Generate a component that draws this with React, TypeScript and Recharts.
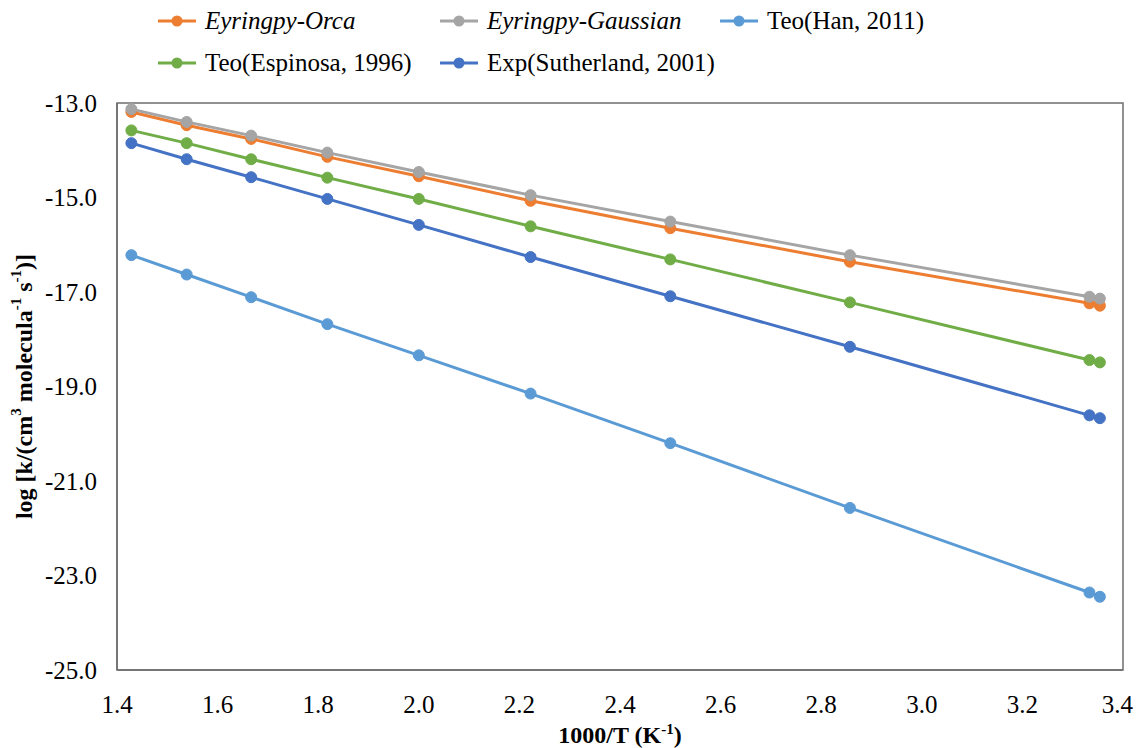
import { LineChart, Line, XAxis, YAxis, ReferenceArea, Label } from "recharts";

const xValues = [1.4286, 1.5385, 1.6667, 1.8182, 2.0, 2.2222, 2.5, 2.8571, 3.3333, 3.354];
const orca = [-13.19, -13.47, -13.76, -14.14, -14.55, -15.07, -15.65, -16.36, -17.24, -17.29];
const gaussian = [-13.13, -13.4, -13.69, -14.05, -14.46, -14.95, -15.51, -16.22, -17.1, -17.14];
const han = [-16.22, -16.63, -17.11, -17.68, -18.34, -19.15, -20.2, -21.57, -23.36, -23.45];
const espinosa = [-13.58, -13.85, -14.19, -14.58, -15.03, -15.61, -16.31, -17.22, -18.44, -18.49];
const sutherland = [-13.85, -14.19, -14.57, -15.03, -15.58, -16.26, -17.09, -18.16, -19.61, -19.67];

const xTicks = [1.4, 1.6, 1.8, 2.0, 2.2, 2.4, 2.6, 2.8, 3.0, 3.2, 3.4];
const yTicks = [-25, -23, -21, -19, -17, -15, -13];

const series = [
  { key: "orca", name: "Eyringpy-Orca", color: "#ED7D31", italic: true },
  { key: "gaussian", name: "Eyringpy-Gaussian", color: "#A5A5A5", italic: true },
  { key: "han", name: "Teo(Han, 2011)", color: "#5B9BD5", italic: false },
  { key: "espinosa", name: "Teo(Espinosa, 1996)", color: "#70AD47", italic: false },
  { key: "sutherland", name: "Exp(Sutherland, 2001)", color: "#4472C4", italic: false },
];

const data = xValues.map((x, i) => ({
  x,
  orca: orca[i],
  gaussian: gaussian[i],
  han: han[i],
  espinosa: espinosa[i],
  sutherland: sutherland[i],
}));

const font = "Liberation Serif";
const axisGray = "#6e6e6e";

// legend positions (two rows)
const legendPos = [
  { left: 150, top: 0 },
  { left: 432, top: 0 },
  { left: 712, top: 0 },
  { left: 150, top: 42 },
  { left: 432, top: 42 },
];

function LegendBox() {
  return (
    <>
      {series.map((s, i) => (
        <div
          key={s.key}
          style={{
            position: "absolute",
            left: legendPos[i].left,
            top: legendPos[i].top,
            height: 26,
            display: "flex",
            alignItems: "center",
            fontFamily: font,
            fontSize: 25,
            fontStyle: s.italic ? "italic" : "normal",
            color: "#000",
            whiteSpace: "nowrap",
          }}
        >
          <svg width={38} height={14} style={{ marginRight: 9 }}>
            <line x1={0} y1={7} x2={38} y2={7} stroke={s.color} strokeWidth={3} />
            <circle cx={19} cy={7} r={5.5} fill={s.color} />
          </svg>
          {s.name}
        </div>
      ))}
    </>
  );
}

const YTitle = (props: any) => {
  const vb = props.viewBox;
  const cy = vb.y + vb.height / 2;
  return (
    <text
      x={16}
      y={cy}
      transform={`rotate(-90, 16, ${cy})`}
      textAnchor="middle"
      dominantBaseline="central"
      fontFamily={font}
      fontSize={24}
      fontWeight="bold"
      fill="#000"
    >
      log [k/(cm<tspan dy={-8} fontSize={15}>3</tspan>
      <tspan dy={8}> molecula</tspan>
      <tspan dy={-8} fontSize={15}>-1</tspan>
      <tspan dy={8}> s</tspan>
      <tspan dy={-8} fontSize={15}>-1</tspan>
      <tspan dy={8}>)]</tspan>
    </text>
  );
};

const XTitle = (props: any) => {
  const vb = props.viewBox;
  return (
    <text
      x={vb.x + vb.width / 2}
      y={735}
      textAnchor="middle"
      fontFamily={font}
      fontSize={24}
      fontWeight="bold"
      fill="#000"
    >
      1000/T (K<tspan dy={-9} fontSize={15}>-1</tspan>
      <tspan dy={9}>)</tspan>
    </text>
  );
};

export default function App() {
  return (
    <div style={{ position: "relative", width: 1125, height: 740 }}>
      <LineChart
        width={1125}
        height={740}
        data={data}
        margin={{ top: 95, right: 10, left: 19, bottom: 18 }}
      >
        <XAxis
          dataKey="x"
          type="number"
          domain={[1.4, 3.4]}
          ticks={xTicks}
          tickFormatter={(v: number) => v.toFixed(1)}
          tickLine={false}
          tickSize={0}
          tickMargin={25}
          height={60}
          axisLine={{ stroke: axisGray, strokeWidth: 1.5 }}
          tick={{ fontFamily: font, fontSize: 25, fill: "#000" }}
          allowDataOverflow
        >
          <Label content={XTitle} />
        </XAxis>
        <YAxis
          type="number"
          domain={[-25, -13]}
          ticks={yTicks}
          tickFormatter={(v: number) => v.toFixed(1)}
          tickLine={false}
          tickSize={0}
          tickMargin={20}
          width={90}
          axisLine={{ stroke: axisGray, strokeWidth: 1.5 }}
          tick={{ fontFamily: font, fontSize: 25, fill: "#000" }}
          allowDataOverflow
        >
          <Label content={YTitle} />
        </YAxis>
        <ReferenceArea
          x1={1.4}
          x2={3.4}
          y1={-25}
          y2={-13}
          fill="none"
          stroke={axisGray}
          strokeWidth={1.5}
        />
        {series.map((s) => (
          <Line
            key={s.key}
            dataKey={s.key}
            name={s.name}
            stroke={s.color}
            strokeWidth={3}
            dot={{ r: 5.5, fill: s.color, stroke: s.color, strokeWidth: 1 }}
            activeDot={false}
            isAnimationActive={false}
          />
        ))}
      </LineChart>
      <LegendBox />
    </div>
  );
}
